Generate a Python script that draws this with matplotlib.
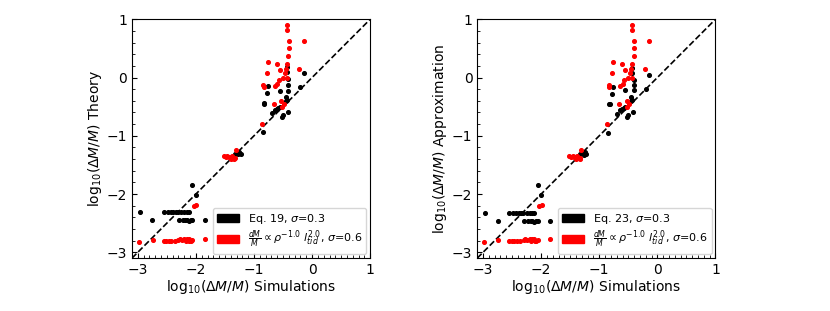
import matplotlib
matplotlib.use("Agg")
import matplotlib.pyplot as plt
from matplotlib.patches import Patch
from matplotlib.ticker import MultipleLocator

# ---- data: log10(dM/M) ----
# black (Eq. 19 / Eq. 23) simulation x values
black_sim = [-0.43, -0.14, -0.41, -0.76, -0.41, -0.20, -0.78, -0.55, -0.41, -0.83,
             -0.82, -0.45, -0.44, -0.45, -0.64, -0.61, -0.58, -0.55, -0.42, -0.52,
             -0.50, -0.69, -0.43, -0.85,
             -1.33, -1.29, -1.25, -1.23, -1.27, -2.06, -2.00,
             -2.97, -2.55, -2.48, -2.43, -2.39, -2.35, -2.31, -2.25, -2.20, -2.16, -2.12,
             -2.75, -2.29, -2.22, -2.18, -2.15, -2.12, -2.09, -2.06, -1.84]
black_theory = [0.18, 0.08, -0.03, -0.15, -0.12, -0.16, -0.27, -0.23, -0.23, -0.44,
                -0.45, -0.33, -0.38, -0.40, -0.56, -0.54, -0.53, -0.50, -0.59, -0.67,
                -0.64, -0.61, 0.10, -0.94,
                -1.31, -1.29, -1.27, -1.31, -1.32, -1.85, -2.01,
                -2.30, -2.30, -2.30, -2.30, -2.30, -2.30, -2.30, -2.30, -2.30, -2.30, -2.30,
                -2.45, -2.45, -2.45, -2.44, -2.45, -2.46, -2.45, -2.45, -2.45]
black_approx = [0.16, 0.04, -0.04, -0.17, -0.13, -0.20, -0.29, -0.21, -0.22, -0.45,
                -0.46, -0.33, -0.38, -0.40, -0.56, -0.54, -0.53, -0.50, -0.60, -0.67,
                -0.64, -0.62, 0.08, -0.95,
                -1.32, -1.30, -1.28, -1.32, -1.33, -1.85, -2.01,
                -2.33, -2.33, -2.33, -2.33, -2.33, -2.33, -2.33, -2.33, -2.33, -2.33, -2.33,
                -2.47, -2.47, -2.47, -2.46, -2.47, -2.48, -2.47, -2.47, -2.47]

# red (dM/M ∝ rho^-1 l_tid^2) - same in both panels
red_sim = [-0.44, -0.43, -0.40, -0.14, -0.40, -0.41, -0.76, -0.61, -0.44, -0.78,
           -0.55, -0.45, -0.47, -0.22, -0.50, -0.44, -0.57, -0.60, -0.64, -0.84,
           -0.83, -0.66, -0.49, -0.52, -0.86, -0.53,
           -1.52, -1.46, -1.43, -1.38, -1.34, -1.33, -1.31, -1.49, -1.40,
           -1.99, -2.03,
           -2.98, -2.74, -2.55, -2.51, -2.46, -2.42, -2.36, -2.30, -2.28, -2.24,
           -2.20, -2.17, -2.14, -2.12, -2.09, -2.06, -2.15, -2.11, -1.84]
red_theory = [0.91, 0.82, 0.62, 0.62, 0.50, 0.37, 0.26, 0.23, 0.23, 0.08,
              0.13, 0.14, 0.08, 0.15, 0.00, 0.00, -0.05, -0.11, -0.14, -0.12,
              -0.17, -0.45, -0.45, -0.50, -0.79, -0.40,
              -1.35, -1.35, -1.37, -1.35, -1.40, -1.38, -1.24, -1.36, -1.39,
              -2.18, -2.21,
              -2.82, -2.79, -2.81, -2.81, -2.81, -2.81, -2.80, -2.79, -2.78, -2.79,
              -2.78, -2.80, -2.79, -2.78, -2.80, -2.79, -2.77, -2.81, -2.77]

xticks = [-3, -2, -1, 0, 1]
lims = (-3.1, 1.0)

fig = plt.figure(figsize=(8.3, 3.11), dpi=100)
ax1 = fig.add_axes([0.159, 0.170, 0.287, 0.768])
ax2 = fig.add_axes([0.575, 0.170, 0.287, 0.768])

panels = [(ax1, black_theory, "Eq. 19", r"log$_{10}$($\Delta M/M$) Theory"),
          (ax2, black_approx, "Eq. 23", r"log$_{10}$($\Delta M/M$) Approximation")]

for ax, by, eqlab, ylab in panels:
    ax.plot(lims, lims, ls="--", color="black", lw=1.2, zorder=1)
    ax.scatter(black_sim, by, s=7, color="black", zorder=2)
    ax.scatter(red_sim, red_theory, s=7, color="red", zorder=3)
    ax.set_xlim(lims)
    ax.set_ylim(lims)
    ax.set_xticks(xticks)
    ax.set_yticks(xticks)
    ax.xaxis.set_minor_locator(MultipleLocator(0.1))
    ax.yaxis.set_minor_locator(MultipleLocator(0.2))
    ax.tick_params(which="both", direction="in")
    ax.tick_params(which="major", length=3.5)
    ax.tick_params(which="minor", length=2)
    ax.set_xlabel(r"log$_{10}$($\Delta M/M$) Simulations", fontsize=10, labelpad=1)
    ax.set_ylabel(ylab, fontsize=10, labelpad=2)
    handles = [Patch(color="black", label=eqlab + r", $\sigma$=0.3"),
               Patch(color="red", label=r"$\frac{dM}{M}\propto\rho^{-1.0}\ l_{tid}^{2.0}$, $\sigma$=0.6")]
    ax.legend(handles=handles, loc="lower right", fontsize=8, handlelength=2.0,
              handleheight=0.8, labelspacing=0.25, borderpad=0.35,
              borderaxespad=0.35, framealpha=0.8)

fig.savefig("out.png", dpi=100)
